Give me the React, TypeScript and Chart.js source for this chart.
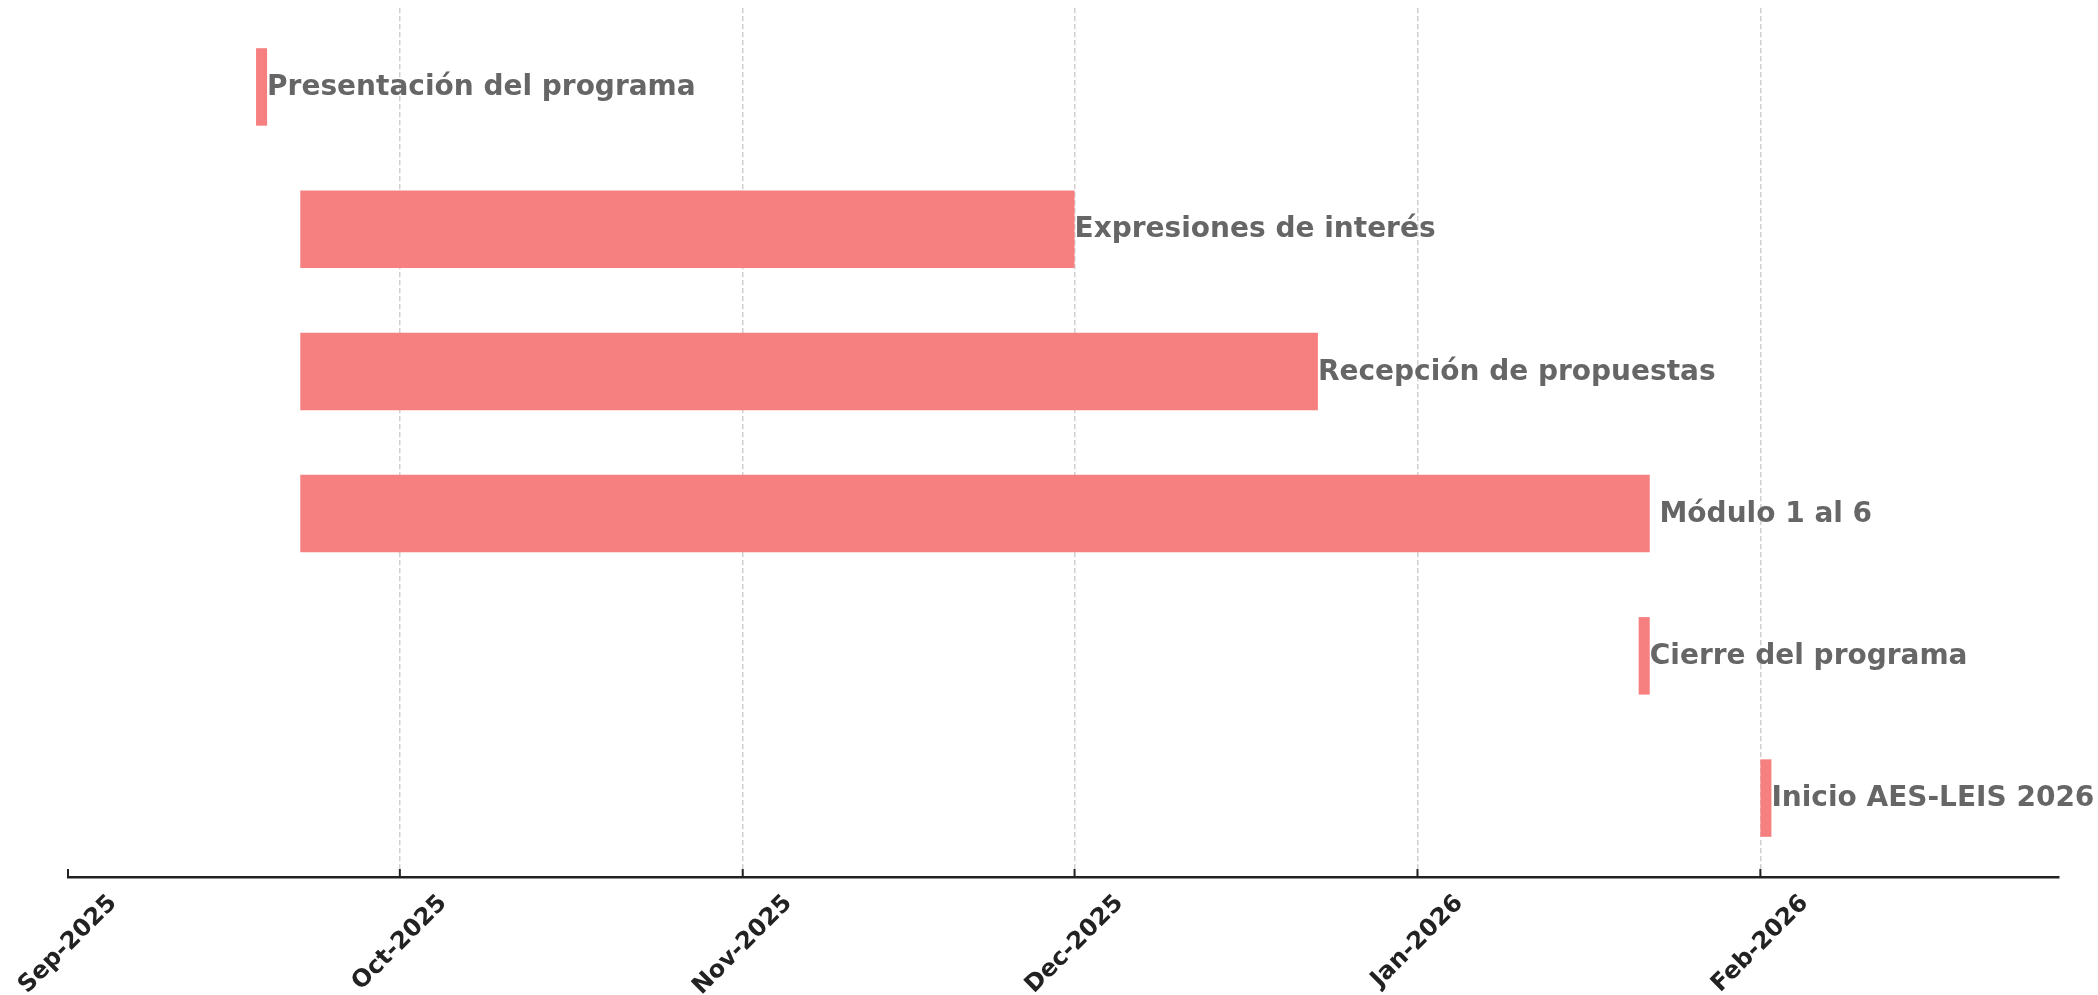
import React, { useEffect, useRef } from "react";
import { Chart, registerables } from "chart.js";

Chart.register(...registerables);

// ---- Data ----
const tasks: string[] = [
  "Presentación del programa",
  "Expresiones de interés",
  "Recepción de propuestas",
  " Módulo 1 al 6",
  "Cierre del programa",
  "Inicio AES-LEIS 2026",
];
const startDates: string[] = [
  "2025-09-18",
  "2025-09-22",
  "2025-09-22",
  "2025-09-22",
  "2026-01-21",
  "2026-02-01",
];
const endDates: string[] = [
  "2025-09-19",
  "2025-12-01",
  "2025-12-23",
  "2026-01-22",
  "2026-01-22",
  "2026-02-02",
];
const monthTicks: string[] = [
  "2025-09-01",
  "2025-10-01",
  "2025-11-01",
  "2025-12-01",
  "2026-01-01",
  "2026-02-01",
];
const tickLabels: string[] = [
  "Sep-2025",
  "Oct-2025",
  "Nov-2025",
  "Dec-2025",
  "Jan-2026",
  "Feb-2026",
];
const axisStart = "2025-09-01";
const axisEnd = "2026-02-28";

const DAY = 86400000;
const origin = Date.parse(axisStart);
const dayNum = (s: string) => (Date.parse(s) - origin) / DAY;

const BAR_COLOR = "#F68080";
const FONT = "'DejaVu Sans', sans-serif";

export default function App() {
  const ref = useRef<HTMLCanvasElement | null>(null);

  useEffect(() => {
    if (!ref.current) return;
    const tickValues = monthTicks.map(dayNum);
    const rowIdx = tasks.map((_, i) => i);

    const labelPlugin = {
      id: "ganttLabels",
      afterDatasetsDraw(chart: any) {
        const ctx = chart.ctx;
        const meta = chart.getDatasetMeta(0);
        ctx.save();
        ctx.font = `bold 28px ${FONT}`;
        ctx.fillStyle = "#666666";
        ctx.textAlign = "left";
        ctx.textBaseline = "middle";
        meta.data.forEach((el: any, i: number) => {
          ctx.fillText(tasks[i], el.x, el.y + 1);
        });
        ctx.restore();
      },
      afterDraw(chart: any) {
        const ctx = chart.ctx;
        const xs = chart.scales.x;
        const axisY = chart.chartArea.bottom;
        ctx.save();
        // tick marks (inward)
        ctx.strokeStyle = "#222222";
        ctx.lineWidth = 2;
        tickValues.forEach((v) => {
          const x = xs.getPixelForValue(v);
          ctx.beginPath();
          ctx.moveTo(x, axisY);
          ctx.lineTo(x, axisY - 8);
          ctx.stroke();
        });
        // rotated tick labels, centered on tick
        const fs = 24;
        ctx.font = `bold ${fs}px ${FONT}`;
        ctx.fillStyle = "#222222";
        ctx.textAlign = "center";
        ctx.textBaseline = "middle";
        const h = fs * 1.17;
        tickValues.forEach((v, i) => {
          const x = xs.getPixelForValue(v);
          const w = ctx.measureText(tickLabels[i]).width;
          const side = (w + h) / Math.SQRT2;
          const cy = axisY + 12.6 + side / 2;
          ctx.save();
          ctx.translate(x, cy);
          ctx.rotate(-Math.PI / 4);
          ctx.fillText(tickLabels[i], 0, 0);
          ctx.restore();
        });
        ctx.restore();
      },
    };

    const chart = new Chart(ref.current, {
      type: "bar",
      data: {
        datasets: [
          {
            data: tasks.map((_, i) => ({
              x: [dayNum(startDates[i]), dayNum(endDates[i])],
              y: i,
            })) as any,
            backgroundColor: BAR_COLOR,
            borderWidth: 0,
            categoryPercentage: 1,
            barPercentage: 0.545,
          },
        ],
      },
      options: {
        indexAxis: "y",
        animation: false,
        responsive: false,
        maintainAspectRatio: false,
        layout: { padding: { left: 68, right: 39, top: 8, bottom: 0 } },
        plugins: {
          legend: { display: false },
          tooltip: { enabled: false },
          title: { display: false },
        },
        scales: {
          y: {
            type: "linear",
            min: -0.555,
            max: 5.555,
            reverse: true,
            offset: false,
            display: false,
            afterBuildTicks: (scale: any) => {
              scale.ticks = rowIdx.map((v) => ({ value: v }));
            },
          },
          x: {
            type: "linear",
            min: dayNum(axisStart),
            max: dayNum(axisEnd),
            offset: false,
            afterBuildTicks: (scale: any) => {
              scale.ticks = tickValues.map((v) => ({ value: v }));
            },
            afterFit: (scale: any) => {
              scale.height = 118;
            },
            ticks: { display: false },
            grid: {
              drawTicks: false,
              lineWidth: 1.5,
              color: (c: any) =>
                c.index === 0 ? "rgba(0,0,0,0)" : "#d0d0d0",
            },
            border: {
              display: true,
              color: "#222222",
              width: 2.5,
              dash: [5.3, 2.7],
            },
          },
        },
      },
      plugins: [labelPlugin],
    });
    return () => chart.destroy();
  }, []);

  return (
    <div
      style={{
        position: "fixed",
        left: 0,
        top: 0,
        width: "2098px",
        height: "995px",
        background: "#ffffff",
      }}
    >
      <canvas
        ref={ref}
        width={2098}
        height={995}
        style={{ width: "2098px", height: "995px", display: "block" }}
      />
    </div>
  );
}
